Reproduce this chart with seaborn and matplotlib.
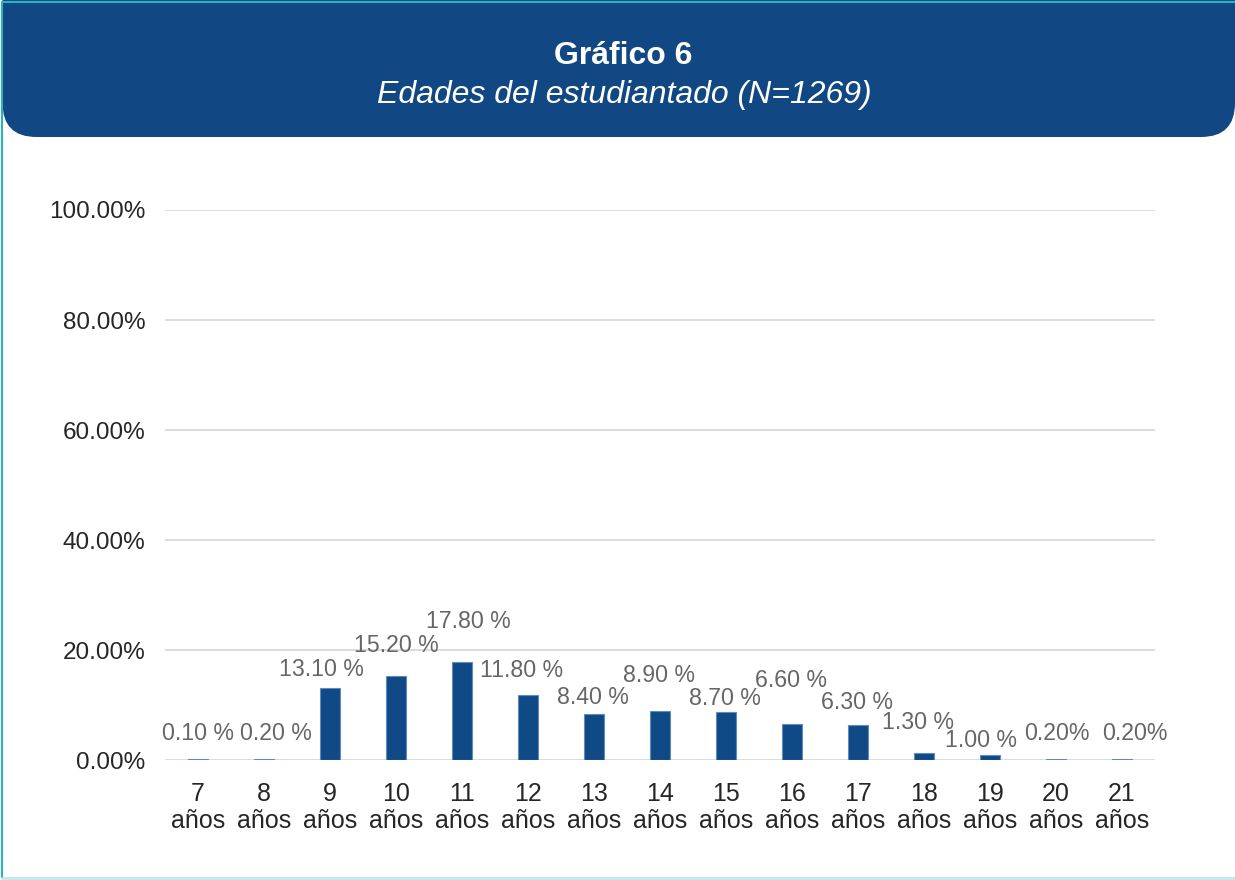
import matplotlib
matplotlib.use("Agg")
import matplotlib.pyplot as plt
from matplotlib.patches import FancyBboxPatch
import seaborn as sns
import pandas as pd

# ---- data ----
ages = ["7\naños", "8\naños", "9\naños", "10\naños", "11\naños", "12\naños", "13\naños",
        "14\naños", "15\naños", "16\naños", "17\naños", "18\naños", "19\naños", "20\naños", "21\naños"]
percent = [0.1, 0.2, 13.1, 15.2, 17.8, 11.8, 8.4, 8.9, 8.7, 6.6, 6.3, 1.3, 1.0, 0.2, 0.2]
value_labels = ["0.10 %", "0.20 %", "13.10 %", "15.20 %", "17.80 %", "11.80 %", "8.40 %",
                "8.90 %", "8.70 %", "6.60 %", "6.30 %", "1.30 %", "1.00 %", "0.20%", "0.20%"]
yticks = [0, 20, 40, 60, 80, 100]
ytick_labels = ["0.00%", "20.00%", "40.00%", "60.00%", "80.00%", "100.00%"]
title = "Gráfico 6"
subtitle = "Edades del estudiantado (N=1269)"

# label placement (as in the original Excel chart)
label_dx = [0.0, 0.18, -0.13, 0.0, 0.1, -0.09, -0.02, -0.02, -0.02, -0.01, -0.01, -0.09, -0.14, 0.01, 0.2]
label_y = [4.8, 4.8, 16.4, 20.9, 25.1, 16.2, 11.3, 15.3, 11.1, 14.4, 10.5, 6.9, 3.5, 4.8, 4.8]

BLUE = "#104a86"
sns.set_theme(style="white")
plt.rcParams["font.family"] = ["Liberation Sans", "DejaVu Sans"]

fig = plt.figure(figsize=(12.35, 8.8), dpi=100)
fig.patch.set_facecolor("white")

# overlay in pixel coordinates for the banner and border
bg = fig.add_axes([0, 0, 1, 1], zorder=0)
bg.set_xlim(0, 1235)
bg.set_ylim(880, 0)
bg.axis("off")
bg.add_patch(FancyBboxPatch((2.5, -60), 1232.5, 197, boxstyle="round,pad=0,rounding_size=34",
                            facecolor="#114884", edgecolor="none"))
bg.plot([2, 2, 1235], [878, 2, 2], color="#2ab2c2", lw=1.5, solid_capstyle="butt")
bg.plot([2, 1235], [878, 878], color="#c4e6ee", lw=2)
bg.text(623, 56, title, color="white", fontsize=23, fontweight="bold", ha="center", va="center")
bg.text(624, 95, subtitle, color="white", fontsize=23, fontstyle="italic", ha="center", va="center")

ax = fig.add_axes([165 / 1235, 1 - 760 / 880, 990 / 1235, 550 / 880], zorder=1)
ax.patch.set_alpha(0)
df = pd.DataFrame({"edad": ages, "pct": percent})
sns.barplot(data=df, x="edad", y="pct", color=BLUE, width=0.31, saturation=1, ax=ax,
            edgecolor="#5f8cbd", linewidth=0.8, zorder=3)

ax.set_ylim(0, 100)
ax.set_xlim(-0.5, len(ages) - 0.5)
ax.set_yticks(yticks)
ax.set_yticklabels(ytick_labels, fontsize=17.5, color="#262626")
ax.tick_params(axis="y", length=0, pad=14)
ax.tick_params(axis="x", length=0, pad=16, labelsize=18, labelcolor="#262626")
for lab in ax.get_xticklabels():
    lab.set_linespacing(1.15)
ax.set_xlabel("")
ax.set_ylabel("")
ax.grid(axis="y", color="#d9d9d9", lw=1.3, zorder=0)
for s in ax.spines.values():
    s.set_visible(False)

for i, (t, dx, ly) in enumerate(zip(value_labels, label_dx, label_y)):
    ax.text(i + dx, ly, t, ha="center", va="center", fontsize=16.7, color="#666666", zorder=4)

fig.savefig("out.png", dpi=100)
